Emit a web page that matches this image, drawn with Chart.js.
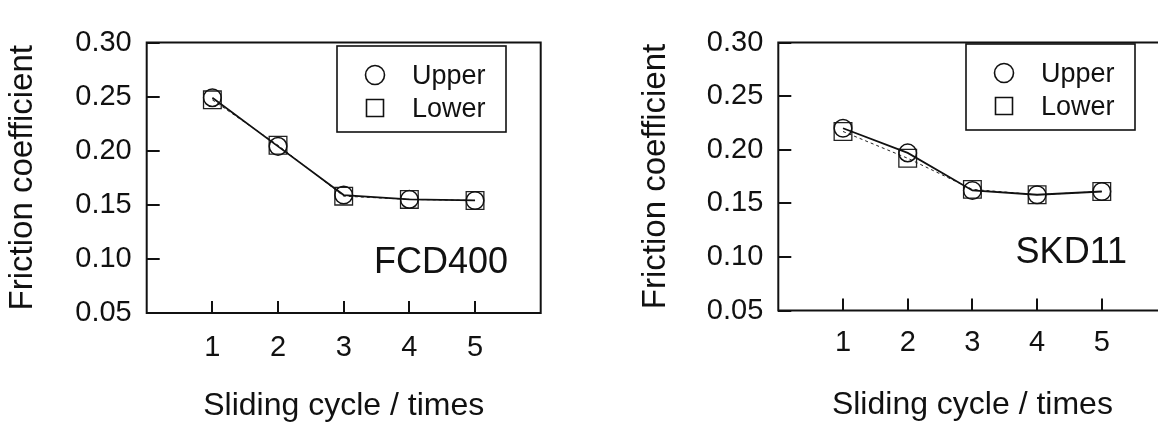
<!DOCTYPE html>
<html>
<head>
<meta charset="utf-8">
<script src="https://cdn.jsdelivr.net/npm/chart.js@4.4.1/dist/chart.umd.min.js"></script>
<style>
  html, body { margin: 0; padding: 0; background: #fff; overflow: hidden; width: 1158px; height: 423px; }
  #wrap { position: relative; width: 1158px; height: 423px; overflow: hidden; }
  canvas { position: absolute; top: 0; }
  #fcd { left: 0; }
  #skd { left: 580px; }
</style>
</head>
<body>
<div id="wrap">
  <canvas id="fcd" width="580" height="423"></canvas>
  <canvas id="skd" width="620" height="423"></canvas>
</div>
<script>
// Friction coefficient per sliding cycle, upper and lower specimens
const cycles = [1, 2, 3, 4, 5];
const xTicks = [1, 2, 3, 4, 5];
const yTicks = [0.05, 0.10, 0.15, 0.20, 0.25, 0.30];
const yTickLabels = ['0.05', '0.10', '0.15', '0.20', '0.25', '0.30'];
const seriesNames = ['Upper', 'Lower'];

const fcdUpper = [0.249, 0.204, 0.159, 0.155, 0.154];
const fcdLower = [0.247, 0.205, 0.158, 0.155, 0.154];
const skdUpper = [0.220, 0.197, 0.162, 0.158, 0.161];
const skdLower = [0.217, 0.192, 0.163, 0.158, 0.161];

const yTitle = 'Friction coefficient';
const xTitle = 'Sliding cycle / times';

const FONT = '"Liberation Sans", Arial, Helvetica, sans-serif';
const INK = '#111';

// Closed rectangle around the plotting area
const framePlugin = {
  id: 'frame',
  beforeDatasetsDraw(chart) {
    const { ctx, chartArea: a } = chart;
    ctx.save();
    ctx.strokeStyle = INK;
    ctx.lineWidth = 2;
    ctx.strokeRect(a.left, a.top, a.right - a.left, a.bottom - a.top);
    ctx.restore();
  }
};

// Boxed legend and material name inside the plot
const panelPlugin = {
  id: 'panel',
  afterDatasetsDraw(chart, args, o) {
    const ctx = chart.ctx;
    ctx.save();
    ctx.strokeStyle = INK;
    ctx.fillStyle = INK;
    ctx.lineWidth = 1.6;
    ctx.strokeRect(o.legendX, o.legendY, 169, 86);
    chart.data.datasets.forEach((ds, i) => {
      const cx = o.legendX + 38;
      const cy = o.legendY + 29 + i * 33;
      ctx.lineWidth = 1.6;
      ctx.beginPath();
      if (ds.pointStyle === 'circle') {
        ctx.arc(cx, cy, 9.5, 0, Math.PI * 2);
      } else {
        ctx.rect(cx - 8.5, cy - 8.5, 17, 17);
      }
      ctx.stroke();
      ctx.font = '27px ' + FONT;
      ctx.textAlign = 'left';
      ctx.textBaseline = 'alphabetic';
      ctx.fillText(ds.label, o.legendX + 75, o.legendY + 38 + i * 33);
    });
    ctx.font = '36px ' + FONT;
    ctx.textAlign = 'right';
    ctx.textBaseline = 'alphabetic';
    ctx.fillText(o.tag, o.tagX, o.tagY);
    ctx.restore();
  }
};

function makePanel(id, g, upper, lower, tag) {
  return new Chart(document.getElementById(id), {
    type: 'line',
    data: {
      datasets: [
        {
          label: seriesNames[0],
          data: cycles.map((c, i) => ({ x: c, y: upper[i] })),
          borderColor: INK,
          borderWidth: 1.8,
          backgroundColor: 'rgba(0,0,0,0)',
          pointStyle: 'circle',
          pointRadius: 8.8,
          pointBorderWidth: 1.5,
          pointBorderColor: INK,
          pointBackgroundColor: 'rgba(0,0,0,0)',
          tension: 0
        },
        {
          label: seriesNames[1],
          data: cycles.map((c, i) => ({ x: c, y: lower[i] })),
          borderColor: '#222',
          borderWidth: 1,
          borderDash: [3, 3],
          backgroundColor: 'rgba(0,0,0,0)',
          pointStyle: 'rect',
          pointRadius: 12.5,
          pointBorderWidth: 1.3,
          pointBorderColor: '#222',
          pointBackgroundColor: 'rgba(0,0,0,0)',
          tension: 0
        }
      ]
    },
    options: {
      responsive: false,
      animation: false,
      devicePixelRatio: 1,
      events: [],
      layout: { padding: { top: g.top, right: g.right, left: 0, bottom: 0 } },
      plugins: {
        legend: { display: false },
        tooltip: { enabled: false },
        panel: { legendX: g.legendX, legendY: g.legendY, tag: tag, tagX: g.tagX, tagY: g.tagY }
      },
      scales: {
        x: {
          type: 'linear',
          min: 0,
          max: 6,
          afterBuildTicks: s => { s.ticks = xTicks.map(v => ({ value: v })); },
          afterFit: s => { s.height = g.xH; },
          grid: { display: true, drawOnChartArea: false, drawTicks: true, tickLength: -12, color: INK, lineWidth: 2 },
          border: { display: false },
          ticks: {
            padding: g.xTickPad,
            color: INK,
            maxRotation: 0,
            autoSkip: false,
            font: { size: 29, family: FONT, lineHeight: 1 }
          },
          title: {
            display: true,
            text: xTitle,
            color: INK,
            font: { size: 32, family: FONT, lineHeight: 1 },
            padding: { top: 0, bottom: g.xTitlePad }
          }
        },
        y: {
          type: 'linear',
          min: 0.05,
          max: 0.30,
          afterBuildTicks: s => { s.ticks = yTicks.map(v => ({ value: v })); },
          afterFit: s => { s.width = g.yW; },
          grid: { display: true, drawOnChartArea: false, drawTicks: true, tickLength: -13, color: INK, lineWidth: 2 },
          border: { display: false },
          ticks: {
            padding: 28,
            color: INK,
            autoSkip: false,
            font: { size: 29, family: FONT, lineHeight: 1 },
            callback: (v, i) => yTickLabels[i]
          },
          title: {
            display: true,
            text: yTitle,
            color: INK,
            font: { size: 33, family: FONT, lineHeight: 1 },
            padding: { top: g.yTitlePad, bottom: 0 }
          }
        }
      }
    },
    plugins: [framePlugin, panelPlugin]
  });
}

makePanel('fcd', {
  top: 24, right: 39.3, yW: 146.7, xH: 110,
  xTickPad: 32.5, xTitlePad: 0.5, yTitlePad: 6.2,
  legendX: 337, legendY: 46, tagX: 508, tagY: 273
}, fcdUpper, fcdLower, 'FCD400');

makePanel('skd', {
  top: 20, right: 33.5, yW: 198.3, xH: 112.5,
  xTickPad: 30.3, xTitlePad: 2.2, yTitlePad: 59.9,
  legendX: 386, legendY: 44, tagX: 547, tagY: 263
}, skdUpper, skdLower, 'SKD11');
</script>
</body>
</html>
